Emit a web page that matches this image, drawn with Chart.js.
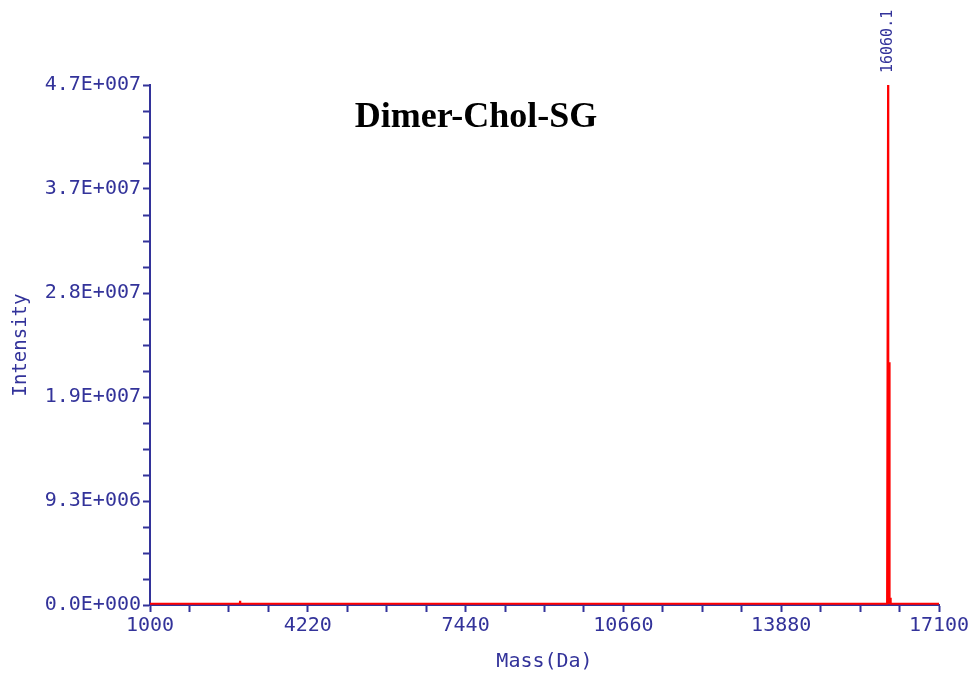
<!DOCTYPE html>
<html>
<head>
<meta charset="utf-8">
<script src="https://cdn.jsdelivr.net/npm/chart.js@4.4.1/dist/chart.umd.min.js"></script>
<style>
    body { margin: 0; background: #fff; }
    #wrap { width: 974px; height: 680px; }
</style>
</head>
<body>
<div id="wrap"><canvas id="spectrum" width="974" height="680"></canvas></div>
<script>
// Deconvoluted spectrum
const masses      = [1000,  2815,  2832,  2837,  2842,  2860,  16040, 16055, 16060.1, 16066, 16082, 16086, 16098, 16104, 16115, 17100];
const intensities = [1.2e5, 1.2e5, 1.2e5, 3.8e5, 1.2e5, 1.2e5, 1.2e5, 1.2e5, 4.67e7,  1.5e5, 1.5e5, 2.18e7, 1.5e5, 6.5e5, 1.2e5, 1.2e5];

// Axis labels (major ticks)
const xTicks = [1000, 4220, 7440, 10660, 13880, 17100];
const yTicks = [0, 9.34e6, 1.868e7, 2.802e7, 3.736e7, 4.67e7];

const title = "Dimer-Chol-SG";
const blue = "#33339a";
const axisFont = "'DejaVu Sans Mono', monospace";

// 3 minor ticks between each pair of majors
function withMinor(majors) {
    const out = [];
    for (let i = 0; i < majors.length - 1; i++) {
        const step = (majors[i + 1] - majors[i]) / 4;
        for (let k = 0; k < 4; k++) out.push({ value: majors[i] + k * step, major: k === 0 });
    }
    out.push({ value: majors[majors.length - 1], major: true });
    return out;
}

function sciLabel(v) {
    const [m, e] = v.toExponential(1).split("e");
    const sign = e[0] === "-" ? "-" : "+";
    const exp = e.replace(/[+-]/, "").padStart(3, "0");
    return `${m}E${sign}${exp}`;
}

// Title and peak label drawn inside the plot
const annotations = {
    id: "annotations",
    afterDraw(chart) {
        const ctx = chart.ctx;
        const xs = chart.scales.x;
        ctx.save();
        ctx.fillStyle = "#000";
        ctx.font = "bold 36px 'Liberation Serif', 'Times New Roman', serif";
        ctx.textAlign = "center";
        ctx.textBaseline = "alphabetic";
        ctx.fillText(title, 476, 127);

        // label the tallest peak
        let top = 0;
        intensities.forEach((v, i) => { if (v > intensities[top]) top = i; });
        const px = xs.getPixelForValue(masses[top]);
        ctx.translate(px, 73);
        ctx.rotate(-Math.PI / 2);
        ctx.fillStyle = blue;
        ctx.font = "15px " + axisFont;
        ctx.textAlign = "left";
        ctx.textBaseline = "middle";
        ctx.fillText(masses[top].toFixed(1), 0, 0);
        ctx.restore();
    },
};

new Chart(document.getElementById("spectrum"), {
    type: "line",
    data: {
        datasets: [
            {
                data: masses.map((m, i) => ({ x: m, y: intensities[i] })),
                borderColor: "#ff0000",
                borderWidth: 2,
                pointRadius: 0,
                tension: 0,
                fill: false,
            },
        ],
    },
    options: {
        responsive: false,
        animation: false,
        devicePixelRatio: 1,
        layout: { padding: { top: 85, right: 35, left: 0, bottom: 0 } },
        plugins: {
            legend: { display: false },
            tooltip: { enabled: false },
        },
        scales: {
            x: {
                type: "linear",
                min: xTicks[0],
                max: xTicks[xTicks.length - 1],
                afterFit: (scale) => { scale.height = 75; },
                afterBuildTicks: (scale) => { scale.ticks = withMinor(xTicks); },
                grid: { drawOnChartArea: false, drawTicks: true, tickLength: 7, tickWidth: 2, color: blue },
                border: { display: true, color: blue, width: 2 },
                ticks: {
                    autoSkip: false,
                    maxRotation: 0,
                    padding: 2,
                    color: blue,
                    font: { family: axisFont, size: 20 },
                    callback: function (value, index) { return index % 4 === 0 ? String(value) : ""; },
                },
                title: {
                    display: true,
                    text: "Mass(Da)",
                    color: blue,
                    font: { family: axisFont, size: 20 },
                    padding: { top: 0, bottom: 6 },
                },
            },
            y: {
                type: "linear",
                min: yTicks[0],
                max: yTicks[yTicks.length - 1],
                afterFit: (scale) => { scale.width = 150; },
                afterBuildTicks: (scale) => { scale.ticks = withMinor(yTicks); },
                grid: { drawOnChartArea: false, drawTicks: true, tickLength: 7, tickWidth: 2, color: blue },
                border: { display: true, color: blue, width: 2 },
                ticks: {
                    autoSkip: false,
                    padding: 2,
                    color: blue,
                    font: { family: axisFont, size: 20 },
                    callback: function (value, index) { return index % 4 === 0 ? sciLabel(value) : ""; },
                },
                title: {
                    display: true,
                    text: "Intensity",
                    color: blue,
                    font: { family: axisFont, size: 19 },
                    padding: { top: 10, bottom: 0 },
                },
            },
        },
    },
    plugins: [annotations],
});
</script>
</body>
</html>
